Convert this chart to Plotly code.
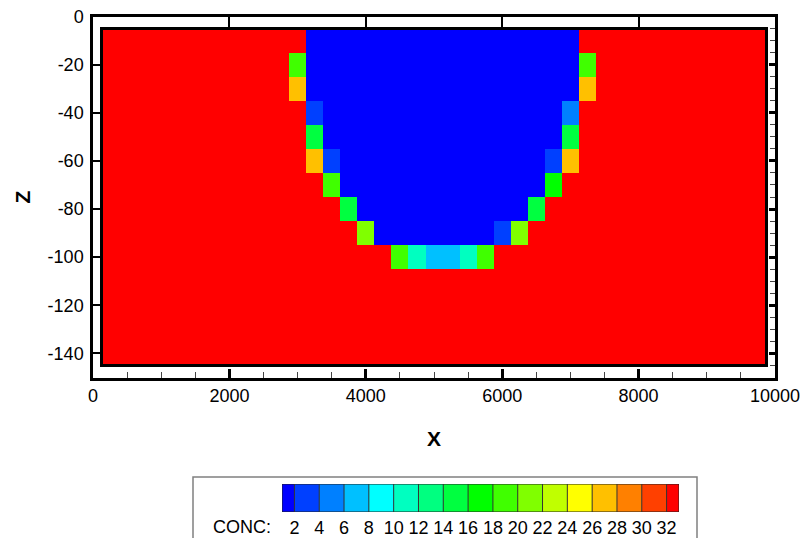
import plotly.graph_objects as go

# ---------------- data ----------------
R = 35.0   # ambient concentration (red)
B = 1.0    # fresh water (blue)

x_centers = [250 * (i + 1) for i in range(39)]          # cell centres, 250 m spacing
z_centers = [-10, -20, -30, -40, -50, -60, -70, -80, -90, -100, -110, -120, -130, -140]

conc = [
    [R,R,R,R,R,R,R,R,R,R,R,R, B,B,B,B,B,B,B,B,B,B,B,B,B,B,B,B, R,R,R,R,R,R,R,R,R,R,R],
    [R,R,R,R,R,R,R,R,R,R,R, 19, B,B,B,B,B,B,B,B,B,B,B,B,B,B,B,B, 19, R,R,R,R,R,R,R,R,R,R],
    [R,R,R,R,R,R,R,R,R,R,R, 27, B,B,B,B,B,B,B,B,B,B,B,B,B,B,B,B, 27, R,R,R,R,R,R,R,R,R,R],
    [R,R,R,R,R,R,R,R,R,R,R,R, 3, B,B,B,B,B,B,B,B,B,B,B,B,B,B, 5, R,R,R,R,R,R,R,R,R,R,R],
    [R,R,R,R,R,R,R,R,R,R,R,R, 15, B,B,B,B,B,B,B,B,B,B,B,B,B,B, 15, R,R,R,R,R,R,R,R,R,R,R],
    [R,R,R,R,R,R,R,R,R,R,R,R, 27, 3, B,B,B,B,B,B,B,B,B,B,B,B, 3, 27, R,R,R,R,R,R,R,R,R,R,R],
    [R,R,R,R,R,R,R,R,R,R,R,R,R, 19, B,B,B,B,B,B,B,B,B,B,B,B, 17, R,R,R,R,R,R,R,R,R,R,R,R],
    [R,R,R,R,R,R,R,R,R,R,R,R,R,R, 15, B,B,B,B,B,B,B,B,B,B, 15, R,R,R,R,R,R,R,R,R,R,R,R,R],
    [R,R,R,R,R,R,R,R,R,R,R,R,R,R,R, 21, B,B,B,B,B,B,B, 3, 21, R,R,R,R,R,R,R,R,R,R,R,R,R,R],
    [R,R,R,R,R,R,R,R,R,R,R,R,R,R,R,R,R, 19, 11, 7, 7, 11, 19, R,R,R,R,R,R,R,R,R,R,R,R,R,R,R,R],
    [R,R,R,R,R,R,R,R,R,R,R,R,R,R,R,R,R,R,R,R,R,R,R,R,R,R,R,R,R,R,R,R,R,R,R,R,R,R,R],
    [R,R,R,R,R,R,R,R,R,R,R,R,R,R,R,R,R,R,R,R,R,R,R,R,R,R,R,R,R,R,R,R,R,R,R,R,R,R,R],
    [R,R,R,R,R,R,R,R,R,R,R,R,R,R,R,R,R,R,R,R,R,R,R,R,R,R,R,R,R,R,R,R,R,R,R,R,R,R,R],
    [R,R,R,R,R,R,R,R,R,R,R,R,R,R,R,R,R,R,R,R,R,R,R,R,R,R,R,R,R,R,R,R,R,R,R,R,R,R,R],
]

levels = [2, 4, 6, 8, 10, 12, 14, 16, 18, 20, 22, 24, 26, 28, 30, 32]
level_colors = ["#0000FF", "#0040FF", "#0080FF", "#00C0FF", "#00FFFF", "#00FFC0",
                "#00FF80", "#00FF40", "#00FF00", "#40FF00", "#80FF00", "#C0FF00",
                "#FFFF00", "#FFC000", "#FF8000", "#FF4000", "#FF0000"]
x_ticks = [0, 2000, 4000, 6000, 8000, 10000]
z_ticks = [0, -20, -40, -60, -80, -100, -120, -140]

# ---------------- colour scale (banded) ----------------
ZMIN, ZMAX = 1.0, 33.0
edges = [ZMIN] + levels + [ZMAX]
colorscale = []
for k, c in enumerate(level_colors):
    a = (edges[k] - ZMIN) / (ZMAX - ZMIN)
    b = (edges[k + 1] - ZMIN) / (ZMAX - ZMIN)
    colorscale.append([a, c])
    colorscale.append([b, c])

FONT = "Liberation Sans, Arial, sans-serif"
W, H = 806, 538
TICK_SIZE = 18

fig = go.Figure()
fig.add_trace(go.Heatmap(
    x=x_centers, y=z_centers, z=conc,
    colorscale=colorscale, zmin=ZMIN, zmax=ZMAX, showscale=False,
    hoverinfo="skip", xaxis="x", yaxis="y"))

# legend bar as a heatmap on its own axes
band_mid = [(edges[k] + edges[k + 1]) / 2 for k in range(len(level_colors))]
fig.add_trace(go.Heatmap(
    x=edges, y=[0, 1], z=[band_mid],
    colorscale=colorscale, zmin=ZMIN, zmax=ZMAX, showscale=False,
    hoverinfo="skip", xaxis="x2", yaxis="y2"))

px_x0, px_x1 = 93, 775
px_y0, px_y1 = 16.5, 377.5

shapes = [
    dict(type="rect", xref="x", yref="y", x0=125, x1=9875, y0=-145, y1=-5,
         line=dict(color="black", width=3), layer="above"),
    dict(type="rect", xref="paper", yref="paper", x0=193 / W, x1=697 / W,
         y0=-0.05, y1=1 - 477 / H, line=dict(color="#808080", width=1.5)),
    dict(type="rect", xref="x2", yref="y2", x0=ZMIN, x1=ZMAX, y0=0, y1=1,
         line=dict(color="#222222", width=1)),
]
for lv in levels:
    shapes.append(dict(type="line", xref="x2", yref="y2", x0=lv, x1=lv, y0=0, y1=1,
                       line=dict(color="#333333", width=1)))

axis_common = dict(showgrid=False, zeroline=False, automargin=False)

fig.update_layout(
    width=W, height=H,
    margin=dict(l=0, r=0, t=0, b=0),
    paper_bgcolor="white", plot_bgcolor="white",
    font=dict(family=FONT, size=TICK_SIZE, color="black"),
    xaxis=dict(domain=[px_x0 / W, px_x1 / W], range=[0, 10000], anchor="y",
               tickvals=x_ticks, ticktext=[str(v) for v in x_ticks],
               ticks="inside", ticklen=9, tickwidth=3, tickcolor="black",
               minor=dict(dtick=500, tick0=0, ticks="inside", ticklen=6, tickwidth=1,
                          tickcolor="#444444", showgrid=False),
               showline=True, linewidth=2.5, linecolor="black", mirror=True,
               tickfont=dict(size=TICK_SIZE),
               title=dict(text="<b>X</b>", font=dict(size=21), standoff=27),
               **axis_common),
    yaxis=dict(domain=[1 - px_y1 / H, 1 - px_y0 / H], range=[-150, 0], anchor="x",
               tickvals=z_ticks, ticktext=[str(v) for v in z_ticks],
               ticks="inside", ticklen=8, tickwidth=2, tickcolor="black",
               showline=True, linewidth=2.5, linecolor="black", mirror=True,
               tickfont=dict(size=TICK_SIZE), ticklabelstandoff=3,
               title=dict(text="<b>Z</b>", font=dict(size=21), standoff=12),
               **axis_common),
    xaxis3=dict(overlaying="x", side="top", anchor="y", range=[0, 10000],
                tickvals=x_ticks, ticks="inside", ticklen=10, tickwidth=2,
                tickcolor="black", showticklabels=False, showline=False,
                **axis_common),
    yaxis3=dict(overlaying="y", side="right", anchor="x", range=[-150, 0],
                tickvals=z_ticks, ticks="inside", ticklen=6, tickwidth=3,
                tickcolor="black", showticklabels=False, showline=False,
                minor=dict(dtick=5, tick0=0, ticks="inside", ticklen=5, tickwidth=1,
                           tickcolor="#444444", showgrid=False),
                **axis_common),
    xaxis2=dict(domain=[282 / W, 679 / W], range=[ZMIN, ZMAX], anchor="y2",
                tickvals=levels, ticktext=[str(v) for v in levels],
                ticks="", showline=False, tickfont=dict(size=TICK_SIZE),
                ticklabelstandoff=3, fixedrange=True, **axis_common),
    yaxis2=dict(domain=[1 - 512 / H, 1 - 484 / H], range=[0, 1], anchor="x2",
                visible=False, fixedrange=True, **axis_common),
    shapes=shapes,
    annotations=[dict(text="CONC:", xref="paper", yref="paper",
                      x=241.5 / W, y=1 - 527 / H, showarrow=False,
                      font=dict(size=TICK_SIZE), xanchor="center", yanchor="middle")],
)

# placeholder trace so that the overlay axes are drawn
fig.add_trace(go.Scatter(x=[None], y=[None], xaxis="x3", yaxis="y3",
                         showlegend=False, hoverinfo="skip"))

fig.update_layout(showlegend=False)
fig.write_html("out.html")
